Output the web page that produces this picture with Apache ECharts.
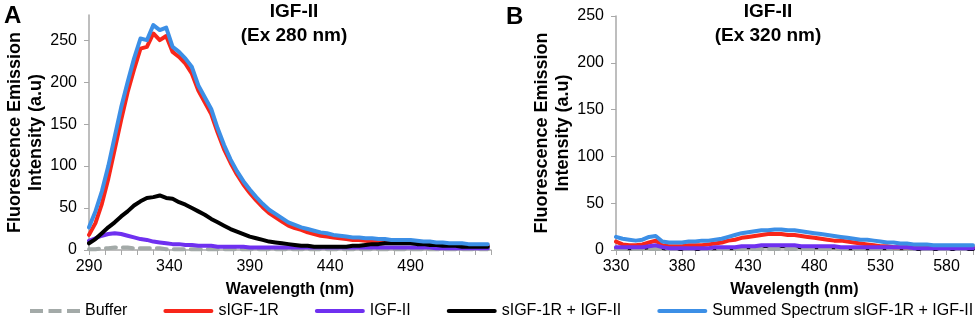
<!DOCTYPE html>
<html>
<head>
<meta charset="utf-8">
<script src="https://cdn.jsdelivr.net/npm/echarts@6/dist/echarts.min.js"></script>
<style>
html,body{margin:0;padding:0;background:#fff;}
#chart{width:978px;height:325px;}
</style>
</head>
<body>
<div id="chart"></div>
<script>
// ---------- Panel A (Ex 280 nm) ----------
const wavelengthsA = [290,294,298,302,306,310,314,318,322,326,330,334,338,342,346,350,354,358,362,366,370,374,378,382,386,390,394,398,402,406,410,414,418,422,426,430,434,438,442,446,450,454,458,462,466,470,474,478,482,486,490,494,498,502,506,510,514,518,522,526,530,534,538];
const bufferA = [1,1,2,2,3,3,3,2,2,2,2,2,1,1,1,1,1,1,1,1,1,1,1,1,1,1,1,1,1,1,1,1,1,1,1,1,1,1,1,1,1,1,1,1,1,1,1,1,1,1,1,1,1,1,1,1,1,1,1,1,1,1,1];
const sIGF1R_A = [18,32,55,85,120,155,188,215,240,242,258,250,255,236,230,222,210,190,176,162,140,120,104,90,78,68,59,51,44,39,34,29,26,24,21,19,17,16,15,14,13,12,12,11,10,10,10,9,9,9,9,8,8,7,7,6,6,6,5,5,5,5,5];
const IGFII_A = [11,14,17,19,20,19,17,15,13,12,10,9,8,7,7,6,6,5,5,5,4,4,4,4,4,3,3,3,3,3,3,3,3,3,3,3,3,3,3,3,3,3,3,3,3,3,3,3,3,3,3,3,3,3,2,2,2,2,2,2,2,2,2];
const complexA = [8,13,20,27,33,40,46,53,58,62,63,65,62,61,57,54,50,46,42,37,33,29,25,22,19,16,14,12,10,9,8,7,6,5,5,4,4,4,4,4,4,5,5,6,7,7,8,8,8,8,8,7,7,6,6,5,5,5,4,4,4,4,4];
const summedA = [27,46,70,100,135,170,200,228,252,250,268,262,265,242,236,228,218,196,182,168,145,125,108,94,82,72,63,55,48,43,38,33,30,27,25,23,21,20,18,17,16,15,15,14,14,13,13,12,12,12,12,11,10,10,9,9,8,8,8,7,7,7,7];

// ---------- Panel B (Ex 320 nm) ----------
const wavelengthsB = [330,335,340,345,350,355,360,365,370,375,380,385,390,395,400,405,410,415,420,425,430,435,440,445,450,455,460,465,470,475,480,485,490,495,500,505,510,515,520,525,530,535,540,545,550,555,560,565,570,575,580,585,590,595,600];
const bufferB = [1,1,1,1,1,1,1,1,1,1,1,1,1,1,1,1,1,1,1,1,1,1,1,1,1,1,1,1,1,1,1,1,1,1,1,1,1,1,1,1,1,1,1,1,1,1,1,1,1,1,1,1,1,1,1];
const sIGF1R_B = [9,6,5,5,6,8,10,5,4,4,4,5,5,5,6,7,8,10,11,13,14,15,16,17,17,17,16,16,15,14,13,12,11,10,10,9,8,7,6,5,4,4,3,3,3,3,3,3,3,3,3,3,3,3,3];
const IGFII_B = [3,3,3,3,3,4,5,3,2,2,2,2,2,2,2,3,3,3,3,4,4,4,5,5,5,5,5,5,4,4,4,4,4,4,3,3,3,3,3,3,3,3,3,3,3,2,2,2,2,2,2,2,2,2,2];
const complexB = [2,2,2,2,2,3,4,2,1,1,1,1,1,1,1,2,2,2,2,3,3,3,4,4,4,4,4,4,3,3,3,3,3,3,2,2,2,2,2,2,2,2,2,2,2,1,1,1,1,1,1,1,1,1,1];
const summedB = [14,12,11,10,11,14,15,9,8,8,8,9,9,10,10,11,12,14,16,18,19,20,21,21,22,22,21,21,20,19,18,17,16,15,14,13,12,11,11,10,9,8,8,7,7,6,6,6,5,5,5,5,5,5,5];

// ---------- Axis ticks / labels ----------
const yLabels = [0,50,100,150,200,250];
const xLabelsA = [290,340,390,440,490];
const xTicksA = [290,300,310,320,330,340,350,360,370,380,390,400,410,420,430,440,450,460,470,480,490,500,510,520,530,540];
const xLabelsB = [330,380,430,480,530,580];
const xTicksB = [330,340,350,360,370,380,390,400,410,420,430,440,450,460,470,480,490,500,510,520,530,540,550,560,570,580,590,600];

const seriesNames = ['Buffer','sIGF-1R','IGF-II','sIGF-1R + IGF-II','Summed Spectrum sIGF-1R + IGF-II'];
const colors = ['#a3aaa8','#f8261a','#6f30f0','#000000','#3c8fe6'];

const FONT = "'Liberation Sans', Arial, sans-serif";
const axisGrey = '#a8a8a8';

function pairs(xs, ys){ return xs.map((x,i)=>[x, ys[i]]); }

function mkSeries(xs, data, idx, gridIdx, extra){
  const s = {
    name: seriesNames[idx],
    type: 'line',
    xAxisIndex: gridIdx, yAxisIndex: gridIdx,
    data: pairs(xs, data),
    showSymbol: false,
    symbol: 'none',
    animation: false,
    lineStyle: {color: colors[idx], width: 4, cap: 'round', join: 'round'},
    itemStyle: {color: colors[idx]},
    z: 2
  };
  if (idx === 0) { s.lineStyle.type = [10, 7]; s.lineStyle.width = 4; }
  return Object.assign(s, extra || {});
}

function yAxisDef(gridIdx, max){
  return {
    type: 'value', gridIndex: gridIdx, min: 0, max: max,
    splitLine: {show: false},
    axisLine: {show: true, lineStyle: {color: axisGrey, width: 1.5}},
    axisTick: {show: true, length: 5, lineStyle: {color: axisGrey}, customValues: yLabels},
    axisLabel: {color: '#000', fontSize: 16, fontFamily: FONT, margin: 12, customValues: yLabels},
    name: 'Fluorescence Emission\nIntensity (a.u)',
    nameLocation: 'middle', nameRotate: 90, nameGap: 41,
    nameTextStyle: {color: '#000', fontSize: 18, fontWeight: 'bold', fontFamily: FONT, lineHeight: 21}
  };
}
function xAxisDef(gridIdx, min, max, labels, ticks){
  return {
    type: 'value', gridIndex: gridIdx, min: min, max: max,
    splitLine: {show: false},
    axisLine: {show: true, onZero: false, lineStyle: {color: axisGrey, width: 1.5}},
    axisTick: {show: true, length: 5, lineStyle: {color: axisGrey}, customValues: ticks},
    axisLabel: {color: '#000', fontSize: 16, fontFamily: FONT, margin: 9, customValues: labels},
    name: 'Wavelength (nm)',
    nameLocation: 'middle', nameGap: 32,
    nameTextStyle: {color: '#000', fontSize: 16, fontWeight: 'bold', fontFamily: FONT}
  };
}

const dashIcon = 'path://M0,0h13v4h-13z M18.5,0h13v4h-13z M37,0h13v4h-13z';
const lineIcon = 'path://M2,0h46a2,2 0 0 1 0,4h-46a2,2 0 0 1 0,-4z';

const chart = echarts.init(document.getElementById('chart'), null, {renderer: 'canvas'});
chart.setOption({
  animation: false,
  backgroundColor: '#fff',
  grid: [
    {left: 89, top: 15, width: 402, height: 235},
    {left: 616, top: 16, width: 357, height: 234}
  ],
  xAxis: [xAxisDef(0, 290, 540, xLabelsA, xTicksA), xAxisDef(1, 330, 600, xLabelsB, xTicksB)],
  yAxis: [yAxisDef(0, 280), yAxisDef(1, 250)],
  legend: {
    left: 30, top: 303, width: 948, padding: 0,
    itemWidth: 50, itemHeight: 4, itemGap: 36,
    data: seriesNames.map((n, i) => ({name: n, icon: i === 0 ? dashIcon : lineIcon})),
    textStyle: {color: '#000', fontSize: 16, fontFamily: FONT},
    selectedMode: false
  },
  graphic: [
    {type: 'text', x: 4, y: 4, style: {text: 'A', font: "bold 24px 'Liberation Sans', Arial", fill: '#000'}},
    {type: 'text', x: 506, y: 5, style: {text: 'B', font: "bold 24px 'Liberation Sans', Arial", fill: '#000'}},
    {type: 'text', x: 294, y: 2, style: {text: 'IGF-II', textAlign: 'center', font: "bold 19px 'Liberation Sans', Arial", fill: '#000'}},
    {type: 'text', x: 294, y: 26, style: {text: '(Ex 280 nm)', textAlign: 'center', font: "bold 19px 'Liberation Sans', Arial", fill: '#000'}},
    {type: 'text', x: 768, y: 2, style: {text: 'IGF-II', textAlign: 'center', font: "bold 19px 'Liberation Sans', Arial", fill: '#000'}},
    {type: 'text', x: 768, y: 26, style: {text: '(Ex 320 nm)', textAlign: 'center', font: "bold 19px 'Liberation Sans', Arial", fill: '#000'}}
  ],
  series: [
    mkSeries(wavelengthsA, bufferA, 0, 0),
    mkSeries(wavelengthsA, sIGF1R_A, 1, 0),
    mkSeries(wavelengthsA, IGFII_A, 2, 0),
    mkSeries(wavelengthsA, complexA, 3, 0),
    mkSeries(wavelengthsA, summedA, 4, 0),
    mkSeries(wavelengthsB, bufferB, 0, 1),
    mkSeries(wavelengthsB, sIGF1R_B, 1, 1),
    mkSeries(wavelengthsB, IGFII_B, 2, 1, {z: 3}),
    mkSeries(wavelengthsB, complexB, 3, 1, {z: 1}),
    mkSeries(wavelengthsB, summedB, 4, 1, {z: 4})
  ]
});
</script>
</body>
</html>
